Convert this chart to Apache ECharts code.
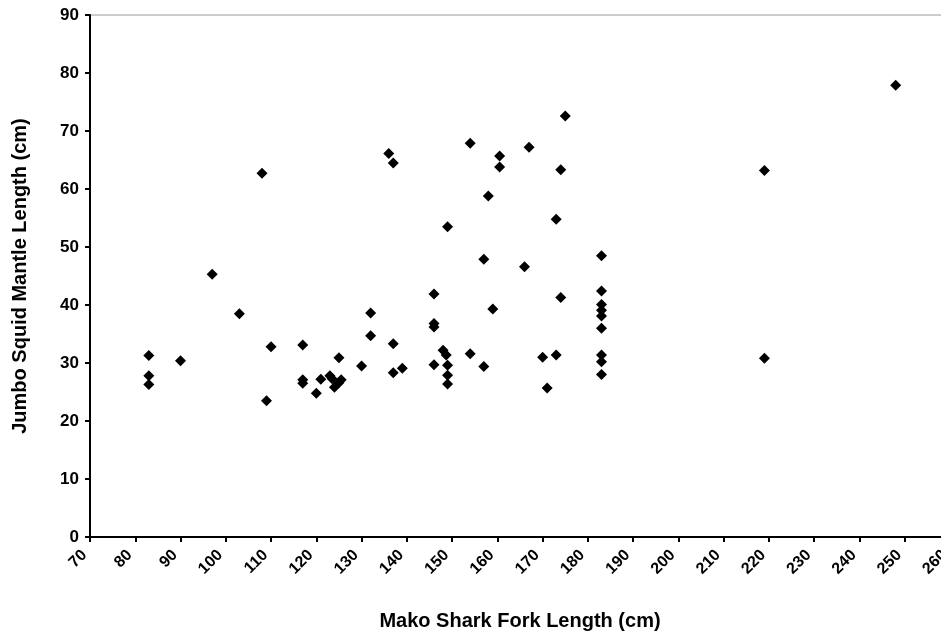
<!DOCTYPE html>
<html>
<head>
<meta charset="utf-8">
<script src="https://cdn.jsdelivr.net/npm/echarts@6/dist/echarts.min.js"></script>
<style>html,body{margin:0;padding:0;background:#fff;}#chart{width:941px;height:635px;}</style>
</head>
<body>
<div id="chart"></div>
<script>
// Mako shark fork length (cm)
const sharkLength = [
  83, 83, 83, 90, 97, 103, 108, 109, 110, 117, 117, 117, 120, 121,
  123, 123.5, 124, 125, 125.5, 125, 130, 132, 132, 136, 137, 137, 137, 139,
  146, 146, 146, 146, 148, 148.7, 149, 149, 149, 149, 154, 154, 157, 157,
  158, 159, 160.5, 160.5, 166, 167, 170, 171, 173, 173, 174, 174, 175,
  183, 183, 183, 183, 183, 183, 183, 183, 183, 219, 219, 248
];
// Jumbo squid mantle length (cm)
const squidLength = [
  31.3, 27.8, 26.3, 30.4, 45.3, 38.5, 62.7, 23.5, 32.8, 33.1, 27.1, 26.5, 24.8, 27.2,
  27.8, 27.3, 25.8, 26.6, 27.1, 30.9, 29.5, 38.6, 34.7, 66.1, 64.5, 33.3, 28.3, 29.1,
  41.9, 36.8, 36.2, 29.7, 32.2, 31.4, 53.5, 29.6, 27.9, 26.4, 67.9, 31.6, 47.9, 29.4,
  58.8, 39.3, 65.7, 63.8, 46.6, 67.2, 31.0, 25.7, 54.8, 31.4, 63.3, 41.3, 72.6,
  48.5, 42.4, 40.1, 39.1, 38.1, 36.0, 31.4, 30.2, 28.0, 63.2, 30.8, 77.9
];
const xTitle = 'Mako Shark Fork Length (cm)';
const yTitle = 'Jumbo Squid Mantle Length (cm)';

const points = sharkLength.map((x, i) => [x, squidLength[i]]);
const FONT = '"Liberation Sans", Arial, sans-serif';

const chart = echarts.init(document.getElementById('chart'), null, {renderer: 'canvas'});
chart.setOption({
  backgroundColor: '#ffffff',
  animation: false,
  grid: {left: 90, top: 15, width: 860, height: 522, outerBoundsMode: 'none', containLabel: false,
         show: true, borderColor: '#9a9a9a', borderWidth: 1, backgroundColor: 'transparent'},
  xAxis: {
    type: 'value', min: 70, max: 260, interval: 10,
    name: xTitle, nameLocation: 'middle', nameGap: 74,
    nameTextStyle: {fontFamily: FONT, fontWeight: 'bold', fontSize: 20, color: '#000'},
    axisLine: {show: true, onZero: false, lineStyle: {color: '#000', width: 2}},
    axisTick: {show: true, length: 5, lineStyle: {color: '#000', width: 2}},
    axisLabel: {rotate: 45, margin: 10, padding: [0, 8, 0, 0], fontFamily: FONT, fontWeight: 'bold', fontSize: 16, color: '#000', hideOverlap: false},
    splitLine: {show: false}
  },
  yAxis: {
    type: 'value', min: 0, max: 90, interval: 10,
    name: yTitle, nameLocation: 'middle', nameGap: 60, nameRotate: 90,
    nameTextStyle: {fontFamily: FONT, fontWeight: 'bold', fontSize: 20, color: '#000'},
    axisLine: {show: true, lineStyle: {color: '#000', width: 2}},
    axisTick: {show: true, length: 5, lineStyle: {color: '#000', width: 2}},
    axisLabel: {margin: 11, fontFamily: FONT, fontWeight: 'bold', fontSize: 17, color: '#000'},
    splitLine: {show: false}
  },
  series: [{
    type: 'scatter',
    data: points,
    symbol: 'diamond',
    symbolSize: 11,
    itemStyle: {color: '#000', opacity: 1}
  }]
});
</script>
</body>
</html>
